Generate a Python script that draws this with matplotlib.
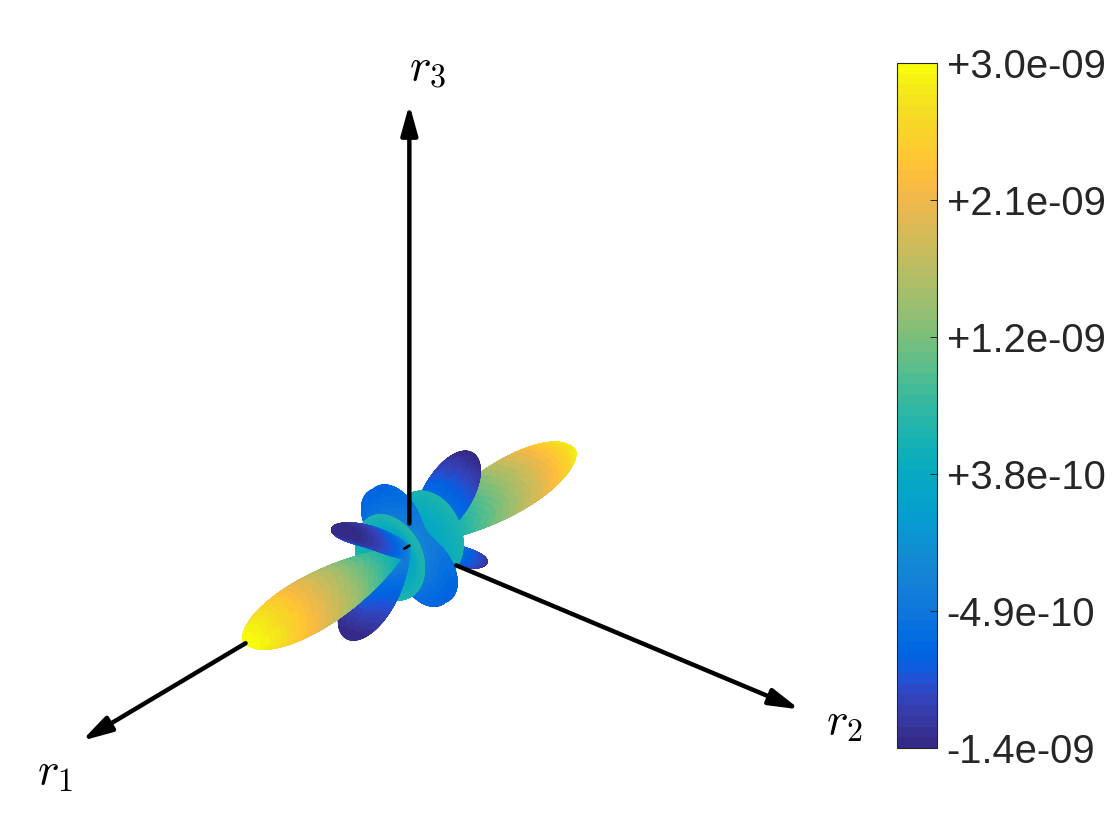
"""Spherical lobe surface with axes arrows and a parula colorbar."""
import numpy as np
import matplotlib
matplotlib.use('Agg')
import matplotlib.pyplot as plt
from matplotlib.colors import ListedColormap, Normalize
from matplotlib.cm import ScalarMappable
from matplotlib.ticker import FormatStrFormatter
from mpl_toolkits.mplot3d import proj3d

plt.rcParams['font.family'] = ['Liberation Sans', 'DejaVu Sans']
plt.rcParams['mathtext.fontset'] = 'cm'

# colour range of the bar, the ticks are evenly spaced inside it
value_min = -1.36e-9
value_max = 2.98e-9

# rings of lobes around the r1 axis (angles in degrees, values in 1e-9)
ring_polar = [0, 30, 55, 86]
ring_width = [11.5, 11, 8.5, 13]
ring_value = [3.0, -1.0, 0.76, -0.58]
ring_swing = [0.0, -0.5, 0.05, -0.22]
ring_phase = [0, -5, 0, -47]

axis_names = ['$r_1$', '$r_2$', '$r_3$']

parula = [
    (0.2081, 0.1663, 0.5292), (0.2116, 0.1898, 0.5777), (0.2123, 0.2138, 0.6270), (0.2081, 0.2386, 0.6771),
    (0.1959, 0.2645, 0.7279), (0.1707, 0.2919, 0.7792), (0.1253, 0.3242, 0.8303), (0.0591, 0.3598, 0.8683),
    (0.0117, 0.3875, 0.8820), (0.0060, 0.4086, 0.8828), (0.0165, 0.4266, 0.8786), (0.0329, 0.4430, 0.8720),
    (0.0498, 0.4586, 0.8641), (0.0629, 0.4737, 0.8554), (0.0723, 0.4887, 0.8467), (0.0779, 0.5040, 0.8384),
    (0.0793, 0.5200, 0.8312), (0.0749, 0.5375, 0.8263), (0.0641, 0.5570, 0.8240), (0.0488, 0.5772, 0.8228),
    (0.0343, 0.5966, 0.8199), (0.0265, 0.6137, 0.8135), (0.0239, 0.6287, 0.8038), (0.0231, 0.6418, 0.7913),
    (0.0228, 0.6535, 0.7768), (0.0267, 0.6642, 0.7607), (0.0384, 0.6743, 0.7436), (0.0590, 0.6838, 0.7254),
    (0.0843, 0.6928, 0.7062), (0.1133, 0.7015, 0.6859), (0.1453, 0.7098, 0.6646), (0.1801, 0.7177, 0.6424),
    (0.2178, 0.7250, 0.6193), (0.2586, 0.7317, 0.5954), (0.3022, 0.7376, 0.5712), (0.3482, 0.7424, 0.5473),
    (0.3953, 0.7459, 0.5244), (0.4420, 0.7481, 0.5033), (0.4871, 0.7491, 0.4840), (0.5300, 0.7491, 0.4661),
    (0.5709, 0.7485, 0.4494), (0.6099, 0.7473, 0.4337), (0.6473, 0.7456, 0.4188), (0.6834, 0.7435, 0.4044),
    (0.7184, 0.7411, 0.3905), (0.7525, 0.7384, 0.3768), (0.7858, 0.7356, 0.3633), (0.8185, 0.7327, 0.3498),
    (0.8507, 0.7299, 0.3360), (0.8824, 0.7274, 0.3217), (0.9139, 0.7258, 0.3063), (0.9450, 0.7261, 0.2886),
    (0.9739, 0.7314, 0.2666), (0.9938, 0.7455, 0.2403), (0.9990, 0.7653, 0.2164), (0.9955, 0.7861, 0.1967),
    (0.9880, 0.8066, 0.1794), (0.9789, 0.8271, 0.1633), (0.9697, 0.8481, 0.1475), (0.9626, 0.8705, 0.1309),
    (0.9589, 0.8949, 0.1132), (0.9598, 0.9218, 0.0948), (0.9661, 0.9514, 0.0755), (0.9763, 0.9831, 0.0538),
]
cmap = ListedColormap(parula)
norm = Normalize(value_min, value_max)

# sphere grid, poles on the r1 axis
theta, phi = np.meshgrid(np.linspace(0, 180, 271), np.linspace(0, 360, 361), indexing='ij')
ux = np.cos(np.radians(theta))
uy = np.sin(np.radians(theta)) * np.sin(np.radians(phi))
uz = np.sin(np.radians(theta)) * np.cos(np.radians(phi))

# both ends of the r1 axis carry the same rings
folded = np.minimum(theta, 180 - theta)
field = np.zeros_like(theta)
for polar, width, value, swing, phase in zip(ring_polar, ring_width, ring_value, ring_swing, ring_phase):
    turn = np.cos(np.radians(2 * (phi - phase)))
    field += (value + swing * turn) * np.exp(-0.5 * ((folded - polar) / width) ** 2)
field *= 1e-9

# radius is 0.5 axis lengths at the top of the range
radius = np.abs(field) / 3e-9 * 0.5
face_colors = cmap(norm(field))

fig = plt.figure(figsize=(11.2, 8.4), dpi=100)

# 840 px square axes placed so the arrows start at pixel (408, 547)
ax = fig.add_axes([(398 - 420) / 1120, (840 - 557 - 420) / 840, 840 / 1120, 1.0], projection='3d', computed_zorder=False)
ax.set_proj_type('ortho')
ax.set_xlim(-1, 1)
ax.set_ylim(-1, 1)
ax.set_zlim(-1, 1)
ax.set_box_aspect((1, 1, 1), zoom=2.04)
ax.view_init(elev=30, azim=40)
ax.set_axis_off()
ax.patch.set_alpha(0)

ax.plot_surface(radius * ux, radius * uy, radius * uz, facecolors=face_colors, rstride=1, cstride=1,
                linewidth=0.3, shade=False, zorder=1)

# the part of each arrow outside the surface
M = ax.get_proj()
starts = [(0.5, 0, 0), (0, 0.12, 0), (0, 0, 0.05)]
ends = [(1, 0, 0), (0, 1, 0), (0, 0, 1)]
for start, end in zip(starts, ends):
    x0, y0, _ = proj3d.proj_transform(*start, M)
    x1, y1, _ = proj3d.proj_transform(*end, M)
    ax.annotate('', xy=(x1, y1), xytext=(x0, y0), zorder=5, annotation_clip=False,
                arrowprops=dict(arrowstyle='-|>,head_length=0.9,head_width=0.25', color='black', lw=3.2,
                                shrinkA=0, shrinkB=0, mutation_scale=20))

# speck of the r1 axis at the origin
x0, y0, _ = proj3d.proj_transform(0, 0, 0, M)
x1, y1, _ = proj3d.proj_transform(0.015, 0, 0, M)
ax.annotate('', xy=(x1, y1), xytext=(x0, y0), zorder=5, annotation_clip=False,
            arrowprops=dict(arrowstyle='-', color='black', lw=2, shrinkA=0, shrinkB=0))

for name, (px, py) in zip(axis_names, [(55, 772), (845, 722), (428, 68)]):
    fig.text(px / 1120, 1 - py / 840, name, fontsize=33, ha='center', va='center')

# colorbar
cax = fig.add_axes([897 / 1120, 1 - 748 / 840, 40 / 1120, 685 / 840])
cb = fig.colorbar(ScalarMappable(norm=norm, cmap=cmap), cax=cax)
cb.set_ticks(np.linspace(value_min, value_max, 6))
cb.ax.yaxis.set_major_formatter(FormatStrFormatter('%+.1e'))
cb.ax.tick_params(direction='in', length=5, width=0.7, color='#262626', labelcolor='#262626', labelsize=28.8, pad=7)
cb.outline.set_edgecolor('#262626')
cb.outline.set_linewidth(0.8)

fig.savefig('out.png', dpi=100)
